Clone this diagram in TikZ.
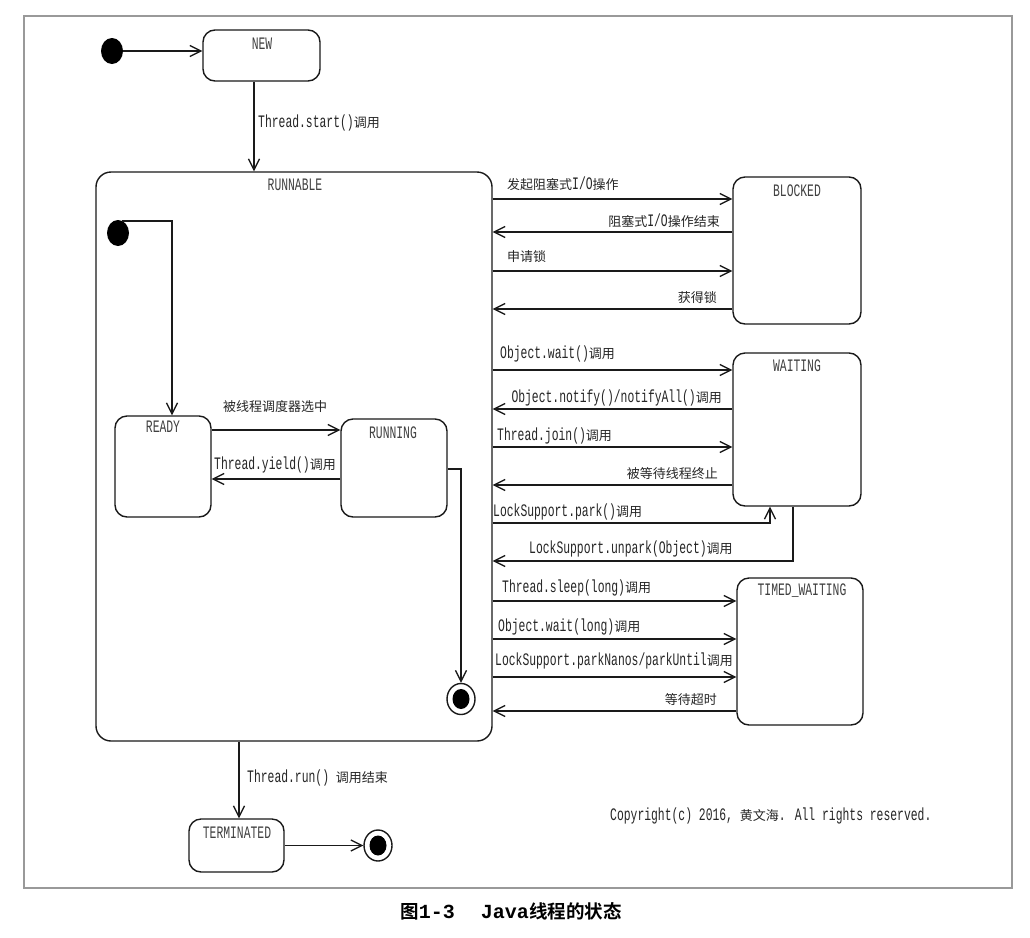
\documentclass[tikz,border=0pt]{standalone}
\usepackage{fontspec}
\setmainfont{Liberation Serif}
\newfontfamily\latf[FakeStretch=0.65]{Liberation Mono}
\newfontfamily\cjkf{Noto Sans CJK SC}
\newfontfamily\cjkbf{Noto Sans CJK SC Bold}
\newfontfamily\capf{Liberation Mono Bold}
\usetikzlibrary{arrows.meta,shapes.geometric}
\newcommand\cj[1]{{\cjkf\fontsize{13}{15}\selectfont #1}}
\newcommand\labfont{\latf\fontsize{17.5}{19}\selectfont}
\definecolor{lncol}{HTML}{1A1A1A}
\definecolor{txcol}{HTML}{262626}
\definecolor{stcol}{HTML}{404040}
\definecolor{frcol}{HTML}{999999}
\begin{document}
\begin{tikzpicture}[x=1pt,y=-1pt,
  st/.style={draw=lncol, line width=1.4pt, rounded corners=12pt, inner sep=0pt},
  lbl/.style={inner sep=0pt, text=txcol, font=\labfont},
  stname/.style={inner sep=0pt, text=stcol, font=\labfont},
  arr/.style={draw=lncol, line width=1.3pt, -{Straight Barb[length=11pt,width=11pt]}},
  initst/.style={ellipse, fill=black, minimum width=22pt, minimum height=26pt, inner sep=0pt},
  finst/.style={ellipse, draw=lncol, line width=1.4pt, minimum width=28pt, minimum height=31pt, inner sep=0pt,
    path picture={\fill[black] (path picture bounding box.center) ellipse [x radius=8.5pt, y radius=10pt];}}
]
\fill[white] (0,0) rectangle (1030,937);
\useasboundingbox (0,0) rectangle (1030,937);
\draw[frcol, line width=1.5pt] (24,16) rectangle (1012,888);

% states
\node[st, minimum width=117pt, minimum height=51pt] (new) at (261.5,55.5) {};
\node[stname] (newl) at (262,44) {NEW};
\node[st, rounded corners=15pt, minimum width=396pt, minimum height=569pt] (runnable) at (294,456.5) {};
\node[stname] (runnablel) at (295,185) {RUNNABLE};
\node[st, minimum width=128pt, minimum height=147pt] (blocked) at (797,250.5) {};
\node[stname] (blockedl) at (797,191) {BLOCKED};
\node[st, minimum width=128pt, minimum height=153pt] (waiting) at (797,429.5) {};
\node[stname] (waitingl) at (797,366) {WAITING};
\node[st, minimum width=126pt, minimum height=147pt] (timed) at (800,651.5) {};
\node[stname] (timedl) at (802,591) {TIMED\_WAITING};
\node[st, minimum width=96pt, minimum height=101pt] (ready) at (163,466.5) {};
\node[stname] (readyl) at (163,427) {READY};
\node[st, minimum width=106pt, minimum height=98pt] (running) at (394,468) {};
\node[stname] (runningl) at (393,433) {RUNNING};
\node[st, minimum width=95pt, minimum height=53pt] (term) at (236.5,845.5) {};
\node[stname] (terml) at (237,833) {TERMINATED};

\node[initst] (init1) at (112,51) {};
\node[initst] (init2) at (118,233) {};
\node[finst] (fin1) at (461,699) {};
\node[finst] (fin2) at (378,845.5) {};

% top
\draw[arr] (init1) -- (new.west |- init1);
\draw[arr] (new.south -| 254,0) -- (runnable.north -| 254,0);
\node[lbl, anchor=west] (lstart) at (258,123) {Thread.start()\cj{调用}};

% inside runnable
\draw[arr] (init2.70) -| (ready.north -| 172,0);
\draw[arr] (ready.east |- 0,430) -- (running.west |- 0,430);
\node[lbl] (lsel) at (275,407) {\cj{被线程调度器选中}};
\draw[arr] (running.west |- 0,479) -- (ready.east |- 0,479);
\node[lbl] (lyield) at (275,465) {Thread.yield()\cj{调用}};
\draw[arr] (running.east |- 0,469) -| (fin1.north);

% blocked
\draw[arr] (runnable.east |- 0,199) -- (blocked.west |- 0,199);
\node[lbl, anchor=west] (lb1) at (507,184) {\cj{发起阻塞式}I/O\cj{操作}};
\draw[arr] (blocked.west |- 0,232) -- (runnable.east |- 0,232);
\node[lbl, anchor=east] (lb2) at (720,221) {\cj{阻塞式}I/O\cj{操作结束}};
\draw[arr] (runnable.east |- 0,271) -- (blocked.west |- 0,271);
\node[lbl, anchor=west] (lb3) at (507,257) {\cj{申请锁}};
\draw[arr] (blocked.west |- 0,309) -- (runnable.east |- 0,309);
\node[lbl, anchor=east] (lb4) at (717,298) {\cj{获得锁}};

% waiting
\draw[arr] (runnable.east |- 0,370) -- (waiting.west |- 0,370);
\node[lbl, anchor=west] (lw1) at (500,354) {Object.wait()\cj{调用}};
\draw[arr] (waiting.west |- 0,409) -- (runnable.east |- 0,409);
\node[lbl, anchor=east] (lw2) at (722,398) {Object.notify()/notifyAll()\cj{调用}};
\draw[arr] (runnable.east |- 0,447) -- (waiting.west |- 0,447);
\node[lbl, anchor=west] (lw3) at (497,436) {Thread.join()\cj{调用}};
\draw[arr] (waiting.west |- 0,485) -- (runnable.east |- 0,485);
\node[lbl, anchor=east] (lw4) at (718,474) {\cj{被等待线程终止}};
\draw[arr] (runnable.east |- 0,523) -| (waiting.south -| 770,0);
\node[lbl, anchor=west] (lw5) at (493,512) {LockSupport.park()\cj{调用}};
\draw[arr] (waiting.south -| 793,0) |- (runnable.east |- 0,561);
\node[lbl, anchor=west] (lw6) at (529,549) {LockSupport.unpark(Object)\cj{调用}};

% timed waiting
\draw[arr] (runnable.east |- 0,601) -- (timed.west |- 0,601);
\node[lbl, anchor=west] (lt1) at (502,588) {Thread.sleep(long)\cj{调用}};
\draw[arr] (runnable.east |- 0,639) -- (timed.west |- 0,639);
\node[lbl, anchor=west] (lt2) at (498,627) {Object.wait(long)\cj{调用}};
\draw[arr] (runnable.east |- 0,677) -- (timed.west |- 0,677);
\node[lbl, anchor=west] (lt3) at (495,661) {LockSupport.parkNanos/parkUntil\cj{调用}};
\draw[arr] (timed.west |- 0,711) -- (runnable.east |- 0,711);
\node[lbl, anchor=east] (lt4) at (717,700) {\cj{等待超时}};

% bottom
\draw[arr] (runnable.south -| 239,0) -- (term.north -| 239,0);
\node[lbl, anchor=west] (lrun) at (247,778) {Thread.run() \cj{调用结束}};
\draw[arr] (term.east) -- (fin2);

\node[lbl, anchor=west] (copy) at (610,816) {Copyright(c) 2016, \cj{黄文海}. All rights reserved.};

\node[inner sep=0pt, text=black] (cap) at (511,911)
  {{\cjkbf\fontsize{18.5}{21}\selectfont 图}{\capf\fontsize{20}{22}\selectfont 1-3}\hspace{26pt}{\capf\fontsize{20}{22}\selectfont Java}{\cjkbf\fontsize{18.5}{21}\selectfont 线程的状态}};
\end{tikzpicture}
\end{document}
